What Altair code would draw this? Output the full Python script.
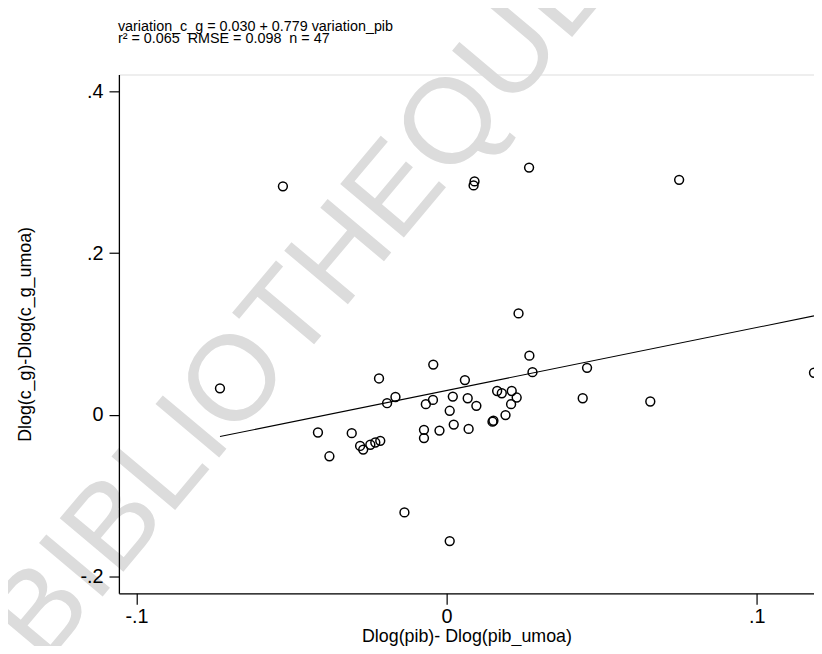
import altair as alt
import pandas as pd

# Scatter data
x_vals = [-0.0528, 0.0266, 0.0090, 0.0087, 0.0750, 0.0232, 0.0267, -0.0731, -0.0218, -0.0043,
          -0.0165, -0.0192, -0.0067, -0.0044, 0.0020, 0.0010, 0.0023, -0.0415, -0.0306, -0.0378,
          -0.0279, -0.0269, -0.0246, -0.0230, -0.0214, -0.0073, -0.0073, -0.0023, -0.0136, 0.0010,
          0.0277, 0.0453, 0.0059, 0.0068, 0.0096, 0.0163, 0.0178, 0.0210, 0.0226, 0.0208,
          0.0190, 0.0151, 0.0148, 0.0071, 0.0439, 0.0657, 0.1185]
y_vals = [0.2826, 0.3058, 0.2887, 0.2838, 0.2907, 0.1254, 0.0731, 0.0327, 0.0449, 0.0621,
          0.0220, 0.0143, 0.0131, 0.0184, 0.0225, 0.0049, -0.0122, -0.0220, -0.0228, -0.0514,
          -0.0386, -0.0431, -0.0371, -0.0343, -0.0323, -0.0187, -0.0289, -0.0196, -0.1208, -0.1563,
          0.0527, 0.0580, 0.0429, 0.0204, 0.0110, 0.0294, 0.0266, 0.0294, 0.0213, 0.0131,
          -0.0004, -0.0074, -0.0086, -0.0175, 0.0204, 0.0164, 0.0520]

# Regression from the title
intercept = 0.030
slope = 0.779
fit_x = [min(x_vals), max(x_vals)]
fit_y = [intercept + slope * v for v in fit_x]

NB = "\u00a0"
title_line1 = ["variation_c_g = 0.030 + 0.779 variation_pib"]
title_line2 = ["r² = 0.065" + NB + NB + "RMSE = 0.098" + NB + NB + "n = 47"]
x_ticks = [-0.1, 0.0, 0.1]
y_ticks = [-0.2, 0.0, 0.2, 0.4]
x_domain = [-0.1057, 0.1185]
y_domain = [-0.221, 0.421]
watermark = ["BIBLIOTHEQUE"]

FONT = "Liberation Sans"

pts = pd.DataFrame({"x": x_vals, "y": y_vals})
fit = pd.DataFrame({"x": fit_x, "y": fit_y})
wm = pd.DataFrame({"w": watermark})
t1 = pd.DataFrame({"t": title_line1})
t2 = pd.DataFrame({"t": title_line2})

label_expr = ("datum.value == 0 ? '0' : "
              "replace(replace(format(datum.value, '.1f'), '0.', '.'), '\u2212', '-')")

xenc = alt.X("x:Q", scale=alt.Scale(domain=x_domain, nice=False, zero=False),
             axis=alt.Axis(title="Dlog(pib)- Dlog(pib_umoa)", values=x_ticks, labelExpr=label_expr,
                           grid=False, domainColor="black", tickColor="black", tickSize=11,
                           domainWidth=1.3, tickWidth=1.2, zindex=1,
                           labelFontSize=20, titleFontSize=18, labelColor="black", titleColor="black",
                           labelFont=FONT, titleFont=FONT, titleFontWeight="normal",
                           labelPadding=2, titlePadding=2, labelFlush=False))
yenc = alt.Y("y:Q", scale=alt.Scale(domain=y_domain, nice=False, zero=False),
             axis=alt.Axis(title="Dlog(c_g)-Dlog(c_g_umoa)", values=y_ticks, labelExpr=label_expr,
                           grid=False, domainColor="black", tickColor="black", tickSize=10,
                           domainWidth=1.3, tickWidth=1.2, zindex=1,
                           labelFontSize=20, titleFontSize=18, labelColor="black", titleColor="black",
                           labelFont=FONT, titleFont=FONT, titleFontWeight="normal",
                           labelPadding=6, titlePadding=46, labelFlush=False))

water = alt.Chart(wm).mark_text(font=FONT, fontSize=122, color="#dcdcdc", angle=310,
                                align="left", baseline="alphabetic").encode(
    x=alt.value(-76), y=alt.value(598), text="w:N")
title1 = alt.Chart(t1).mark_text(font=FONT, fontSize=14.5, color="black", align="left",
                                 baseline="alphabetic").encode(
    x=alt.value(-1), y=alt.value(-44), text="t:N")
title2 = alt.Chart(t2).mark_text(font=FONT, fontSize=14.5, color="black", align="left",
                                 baseline="alphabetic").encode(
    x=alt.value(-1), y=alt.value(-32), text="t:N")
points = alt.Chart(pts).mark_point(shape="circle", filled=False, color="black", size=80,
                                   strokeWidth=1.5, opacity=1, clip=True).encode(x=xenc, y=yenc)
line = alt.Chart(fit).mark_line(color="black", strokeWidth=1.1, clip=True).encode(x="x:Q", y="y:Q")

chart = alt.layer(water, title1, title2, line, points).properties(
    width=702, height=524,
    autosize=alt.AutoSizeParams(type="none"),
    padding={"left": 112, "top": 64, "right": 0, "bottom": 50},
).configure_view(stroke=None).configure(background="white")

chart.save("out.html", embed_options={"renderer": "svg", "actions": False})
